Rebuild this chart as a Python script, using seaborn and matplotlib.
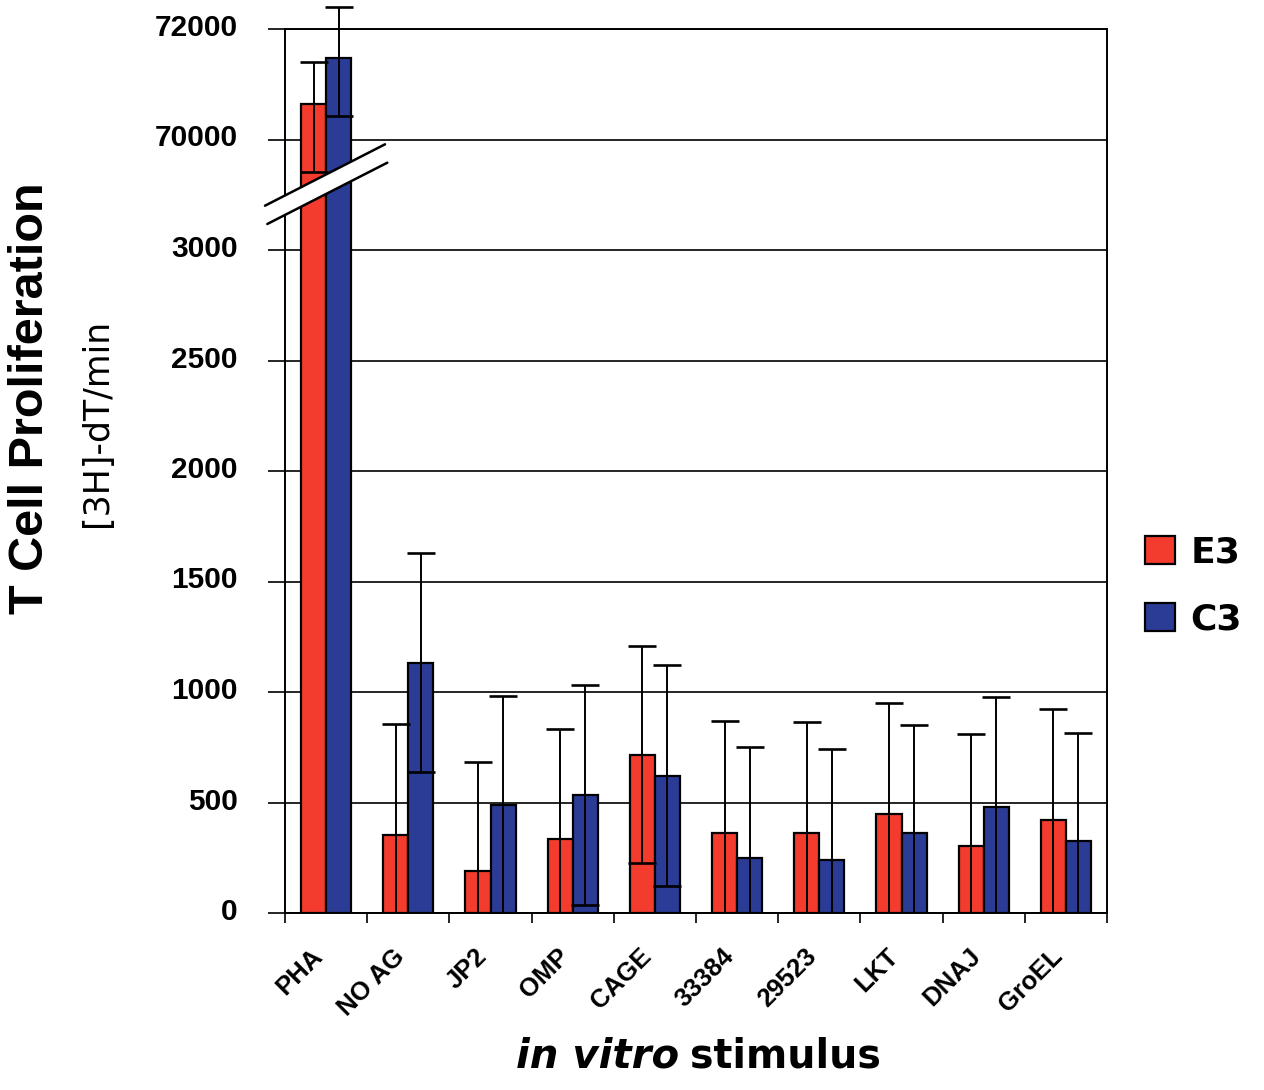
import numpy as np
import pandas as pd
import matplotlib
matplotlib.use("Agg")
import matplotlib.pyplot as plt
import matplotlib.transforms as mtransforms
from matplotlib.patches import Polygon
from matplotlib.lines import Line2D
import seaborn as sns

# ---------------- data ----------------
categories = ["PHA", "NO AG", "JP2", "OMP", "CAGE", "33384", "29523", "LKT", "DNAJ", "GroEL"]
groups = ["E3", "C3"]
e3_vals = [70636, 352, 191, 333, 716, 361, 361, 448, 303, 421]
c3_vals = [71479, 1133, 489, 534, 620, 248, 238, 363, 478, 326]
e3_err_lo = [1221, 505, 494, 501, 492, 509, 502, 502, 506, 502]
e3_err_hi = [759, 505, 494, 501, 492, 509, 502, 502, 506, 502]
c3_err_lo = [1059, 495, 493, 498, 500, 505, 505, 489, 501, 488]
c3_err_hi = [927, 495, 493, 498, 500, 505, 505, 489, 501, 488]
ytick_vals = [0, 500, 1000, 1500, 2000, 2500, 3000, 70000, 72000]
ytick_labels = ["0", "500", "1000", "1500", "2000", "2500", "3000", "70000", "72000"]

colors = {"E3": "#F43C2E", "C3": "#2B3C97"}

df = pd.DataFrame({
    "stimulus": categories * 2,
    "group": ["E3"] * len(categories) + ["C3"] * len(categories),
    "value": e3_vals + c3_vals,
})

# ---------------- broken-axis scale ----------------
def fwd(v):
    v = np.asarray(v, dtype=float)
    return np.where(v <= 3000, v,
           np.where(v >= 69000, 3500 + (v - 70000) / 4.0,
                    3000 + 250.0 * (v - 3000) / 66000.0))

def inv(d):
    d = np.asarray(d, dtype=float)
    return np.where(d <= 3000, d,
           np.where(d >= 3250, 70000 + (d - 3500) * 4.0,
                    3000 + (d - 3000) * 66000.0 / 250.0))

sns.set_theme(style="white")
plt.rcParams["font.family"] = ["Liberation Sans", "DejaVu Sans"]
for k in ["text.color", "axes.labelcolor", "xtick.color", "ytick.color"]:
    plt.rcParams[k] = "black"

W, H = 1264, 1090
fig = plt.figure(figsize=(W / 100, H / 100), dpi=100)
L, R, T, B = 285, 1107, 29, 913
ax = fig.add_axes([L / W, 1 - B / H, (R - L) / W, (B - T) / H])

ax.set_yscale("function", functions=(fwd, inv))

sns.barplot(data=df, x="stimulus", y="value", hue="group", order=categories,
            hue_order=groups, palette=colors, errorbar=None, width=0.61,
            edgecolor="black", linewidth=1.6, saturation=1, legend=False,
            ax=ax, zorder=3)
bar_containers = list(ax.containers)

ax.set_ylim(0, 72000)
ax.set_xlim(-0.5, len(categories) - 0.5)

# clip errorbars at the axis bottom only (top cap may stick out above the frame)
clipbox = mtransforms.TransformedBbox(mtransforms.Bbox([[0, 0], [1, 1.2]]), ax.transAxes)
errs = {"E3": (e3_vals, e3_err_lo, e3_err_hi), "C3": (c3_vals, c3_err_lo, c3_err_hi)}
for cont, g in zip(bar_containers, groups):
    xs = [p.get_x() + p.get_width() / 2 for p in cont.patches]
    vals, lo, hi = errs[g]
    eb = ax.errorbar(xs, vals, yerr=[lo, hi], fmt="none", ecolor="black",
                     elinewidth=1.4, capsize=10, capthick=1.9, zorder=4)
    _, caps, barcols = eb.lines
    for art in list(caps) + list(barcols):
        art.set_clip_box(clipbox)
        art.set_clip_path(None)

ax.set_yticks(ytick_vals)
ax.set_yticklabels(ytick_labels)
ax.yaxis.grid(True, color="black", linewidth=1.2, zorder=0)
ax.xaxis.grid(False)
ax.set_axisbelow(True)
for s in ax.spines.values():
    s.set_visible(True)
    s.set_color("black")
    s.set_linewidth(1.4)

ax.tick_params(axis="y", which="major", left=True, direction="out", length=12, width=1.2,
               color="black", pad=22, labelsize=21.5)
for lab in ax.get_yticklabels():
    lab.set_fontweight("bold")
    lab.set_transform(lab.get_transform() +
                      mtransforms.ScaledTranslation(0, 0.04, fig.dpi_scale_trans))

# x: ticks at category boundaries, labels at centers
ax.set_xticks(np.arange(-0.5, len(categories), 1.0))
ax.set_xticklabels([])
ax.set_xticks(np.arange(len(categories)), minor=True)
ax.set_xticklabels(categories, minor=True)
ax.tick_params(axis="x", which="major", bottom=True, direction="out", length=7, width=1.2,
               color="black")
ax.tick_params(axis="x", which="minor", bottom=True, length=0, pad=30, labelsize=18.5)
for lab in ax.get_xticklabels(minor=True):
    lab.set_rotation(45)
    lab.set_ha("right")
    lab.set_va("center")
    lab.set_rotation_mode("anchor")
    lab.set_fontweight("bold")
    lab.set_transform(lab.get_transform() +
                      mtransforms.ScaledTranslation(-0.07, 0.02, fig.dpi_scale_trans))
ax.set_xlabel("")
ax.set_ylabel("")

# axis titles
fig.text(31 / W, 1 - 398 / H, "T Cell Proliferation", rotation=90, ha="center",
         va="center", fontsize=35, fontweight="bold", family=["Liberation Sans", "DejaVu Sans"])
fig.text(97 / W, 1 - 423 / H, "[3H]-dT/min", rotation=90, ha="center",
         va="center", fontsize=25, family=["DejaVu Sans"])
t1 = fig.text(516 / W, 1 - 1068 / H, "in vitro", ha="left", va="baseline",
              fontsize=29, fontweight="bold", fontstyle="italic", family=["DejaVu Sans"])
fig.draw_without_rendering()
ax.annotate("stimulus", xy=(1, 0), xycoords=t1, xytext=(8, 0),
            textcoords="offset points", ha="left", va="bottom",
            fontsize=28.5, fontweight="bold", family=["DejaVu Sans"], annotation_clip=False)

# legend
ax.legend([c.patches[0] for c in bar_containers], groups, loc="center left",
          bbox_to_anchor=(1127 / W, 1 - 586 / H), bbox_transform=fig.transFigure,
          frameon=False, prop={"family": "DejaVu Sans", "weight": "bold", "size": 26},
          handlelength=0.83, handleheight=0.83, handletextpad=0.42, labelspacing=0.9,
          borderpad=0)

# axis-break mark
def px(x, y):
    return (x / W, 1 - y / H)

poly = Polygon([px(265, 205.7), px(385, 144.3), px(387.3, 162.7), px(267.3, 224)],
               closed=True, facecolor="white", edgecolor="none",
               transform=fig.transFigure, zorder=10)
fig.add_artist(poly)
for (a, b) in [((265, 205.7), (385, 144.3)), ((267.3, 224), (387.3, 162.7))]:
    p1, p2 = px(*a), px(*b)
    fig.add_artist(Line2D([p1[0], p2[0]], [p1[1], p2[1]], color="black", lw=1.8,
                          transform=fig.transFigure, zorder=11))

fig.savefig("out.png", dpi=100)
